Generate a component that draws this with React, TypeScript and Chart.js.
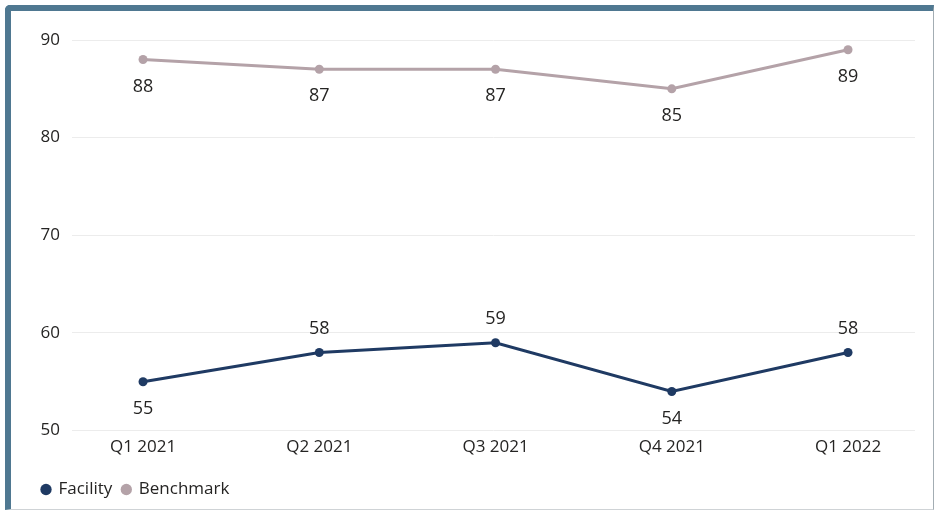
import React, { useEffect, useRef } from "react";
import { Chart, registerables } from "chart.js";

Chart.register(...registerables);

const categories = ["Q1 2021", "Q2 2021", "Q3 2021", "Q4 2021", "Q1 2022"];
const facilityValues = [55, 58, 59, 54, 58];
const benchmarkValues = [88, 87, 87, 85, 89];
const yTicks = [50, 60, 70, 80, 90];

const FONT = "'Open Sans', 'Noto Sans', sans-serif";
const TEXT = "#252423";
const FACILITY_COLOR = "#1f3a63";
const BENCHMARK_COLOR = "#b4a2a8";

const dataLabelPlugin = {
  id: "dataLabels",
  afterDatasetsDraw(chart: any) {
    const ctx = chart.ctx;
    ctx.save();
    ctx.font = `18px ${FONT}`;
    ctx.fillStyle = TEXT;
    ctx.textAlign = "center";
    ctx.textBaseline = "middle";
    chart.data.datasets.forEach((ds: any, di: number) => {
      const meta = chart.getDatasetMeta(di);
      const vals = ds.data.map((p: any) => p.y);
      meta.data.forEach((pt: any, i: number) => {
        const v = vals[i];
        let below: boolean;
        if (ds.labelMode === "below") below = true;
        else {
          const prev = i > 0 ? vals[i - 1] : Infinity;
          const next = i < vals.length - 1 ? vals[i + 1] : Infinity;
          below = v < prev && v < next;
        }
        const y = below ? pt.y + 27 : pt.y - 24;
        ctx.fillText(String(v), pt.x, y);
      });
    });
    ctx.restore();
  },
};

export default function App() {
  const ref = useRef<HTMLCanvasElement | null>(null);

  useEffect(() => {
    document.body.style.margin = "0";
    if (!ref.current) return;
    const chart = new Chart(ref.current, {
      type: "line",
      data: {
        datasets: [
          {
            label: "Facility",
            data: facilityValues.map((y, i) => ({ x: i, y })),
            borderColor: FACILITY_COLOR,
            backgroundColor: FACILITY_COLOR,
            borderWidth: 3,
            pointRadius: 4.5,
            pointBorderWidth: 0,
            pointBackgroundColor: FACILITY_COLOR,
            tension: 0,
            labelMode: "auto",
          } as any,
          {
            label: "Benchmark",
            data: benchmarkValues.map((y, i) => ({ x: i, y })),
            borderColor: BENCHMARK_COLOR,
            backgroundColor: BENCHMARK_COLOR,
            borderWidth: 3,
            pointRadius: 4.5,
            pointBorderWidth: 0,
            pointBackgroundColor: BENCHMARK_COLOR,
            tension: 0,
            labelMode: "below",
          } as any,
        ],
      },
      options: {
        animation: false,
        responsive: true,
        maintainAspectRatio: false,
        layout: { padding: { left: 21, right: 18, top: 29, bottom: 1 } },
        plugins: {
          tooltip: { enabled: false },
          legend: {
            position: "bottom",
            align: "start",
            labels: {
              usePointStyle: true,
              pointStyle: "circle",
              boxWidth: 8,
              boxHeight: 8,
              padding: 10,
              color: TEXT,
              font: { family: FONT, size: 17 },
            },
          },
        },
        scales: {
          x: {
            type: "linear",
            min: -0.403,
            max: 4.38,
            grid: { display: false },
            border: { display: false },
            afterBuildTicks: (scale: any) => {
              scale.ticks = categories.map((_, i) => ({ value: i }));
            },
            afterFit: (scale: any) => {
              scale.height += 16;
            },
            ticks: {
              autoSkip: false,
              maxRotation: 0,
              padding: -2,
              color: TEXT,
              font: { family: FONT, size: 17 },
              callback: (v: any) => categories[Math.round(Number(v))] ?? "",
            },
          },
          y: {
            type: "linear",
            min: yTicks[0],
            max: yTicks[yTicks.length - 1],
            afterFit: (scale: any) => {
              scale.width = 40;
            },
            afterBuildTicks: (scale: any) => {
              scale.ticks = yTicks.map((value) => ({ value }));
            },
            grid: { color: "#ececec", lineWidth: 1, drawTicks: false },
            border: { display: false },
            ticks: {
              padding: 12,
              color: TEXT,
              font: { family: FONT, size: 17 },
            },
          },
        },
      },
      plugins: [dataLabelPlugin],
    } as any);
    return () => chart.destroy();
  }, []);

  return (
    <div
      style={{
        position: "absolute",
        left: 5,
        top: 5,
        width: 929,
        height: 505,
        boxSizing: "border-box",
        borderLeft: "6px solid #4f7891",
        borderTop: "6px solid #4f7891",
        borderRight: "1px solid #a3adb3",
        borderBottom: "1px solid #cfd3d6",
        borderTopLeftRadius: 5,
        background: "#ffffff",
      }}
    >
      <div style={{ position: "relative", width: 922, height: 498 }}>
        <canvas ref={ref} />
      </div>
    </div>
  );
}
